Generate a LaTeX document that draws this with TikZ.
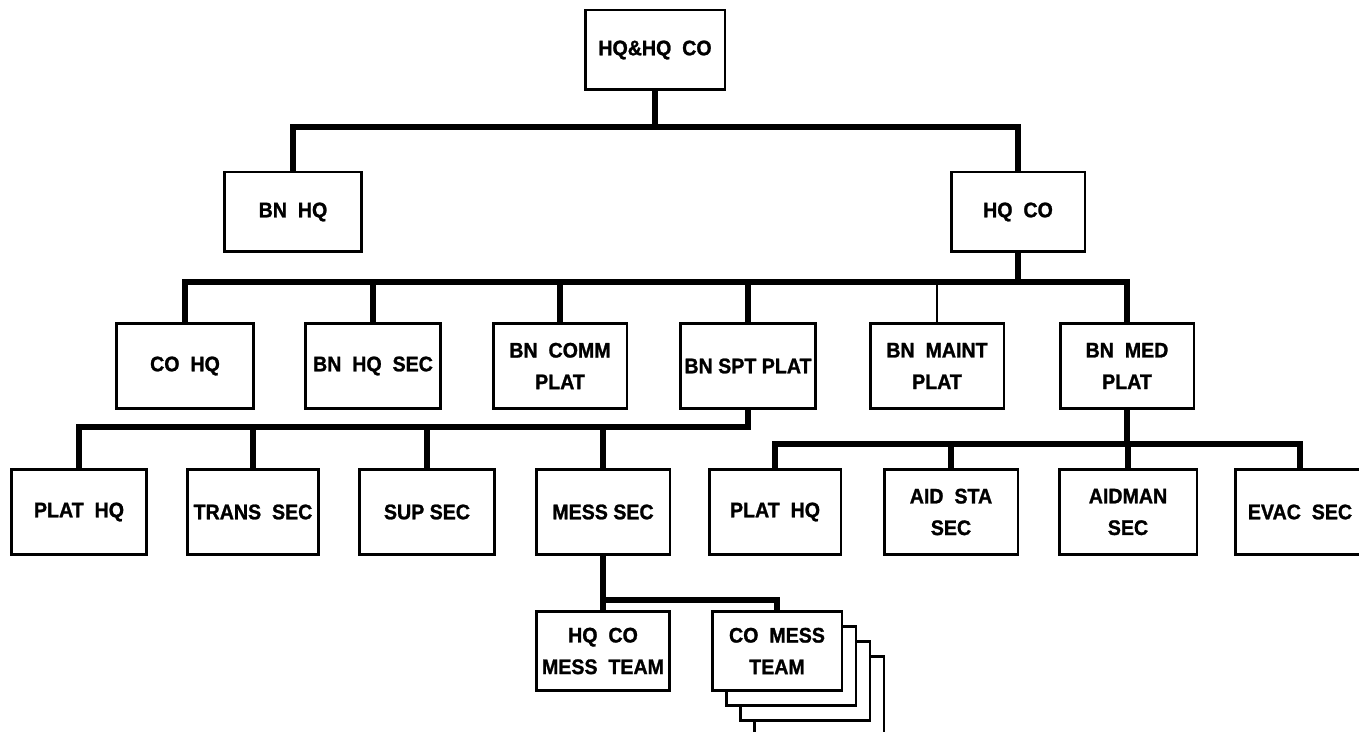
\documentclass[tikz,border=0pt]{standalone}
\usepackage{fontspec}
\newfontfamily\orgfont{Liberation Sans}[FakeStretch=0.93, FakeBold=1.2]
\tikzset{
  unit/.style={draw, line width=1.7pt, fill=white, minimum width=2.68cm, minimum height=1.7cm,
    inner sep=0.5pt, align=center, font=\orgfont\bfseries\fontsize{12}{18}\selectfont},
  lowunit/.style={unit, minimum height=1.6cm},
  bus/.style={line width=3.6pt, line join=miter},
  thinbus/.style={line width=1.6pt},
}

\begin{document}
\begin{tikzpicture}[x=0.02cm, y=-0.02cm]
  \clip (0,0) rectangle (1359,732);
  \fill[white] (0,0) rectangle (1359,732);

  % bus levels
  \coordinate (bus1) at (0,127);
  \coordinate (bus2) at (0,282);
  \coordinate (bus3a) at (0,427);
  \coordinate (bus3b) at (0,444);
  \coordinate (bus4) at (0,600);

  % Company
  \node[lowunit, minimum width=2.8cm] (hqhq) at (655,50) {HQ\&HQ~~CO};

  % Battalion HQ and HQ company
  \node[lowunit, minimum width=2.74cm] (bnhq) at (293,212) {BN~~HQ};
  \node[lowunit] (hqco) at (1018,212) {HQ~~CO};

  % Sections and platoons
  \node[unit, minimum width=2.76cm] (cohq) at (185,366) {CO~~HQ};
  \node[unit, minimum width=2.72cm] (hqsec) at (373,366) {BN~~HQ~~SEC};
  \node[unit] (commplat) at (560,366) {BN~~COMM\\PLAT};
  \node[unit, minimum width=2.7cm] (sptplat) at (748,366) {BN SPT PLAT};
  \node[unit] (maintplat) at (937,366) {BN~~MAINT\\PLAT};
  \node[unit] (medplat) at (1127,366) {BN~~MED\\PLAT};

  % Support platoon
  \node[unit, minimum width=2.7cm] (plathqa) at (79,512) {PLAT~~HQ};
  \node[unit, minimum width=2.62cm] (transsec) at (253,512) {TRANS~~SEC};
  \node[unit, minimum width=2.72cm] (supsec) at (427,512) {SUP SEC};
  \node[unit] (messsec) at (603,512) {MESS SEC};

  % Medical platoon
  \node[unit, minimum width=2.64cm] (plathqb) at (775,512) {PLAT~~HQ};
  \node[unit] (aidsta) at (951,512) {AID~~STA\\SEC};
  \node[unit, minimum width=2.76cm] (aidman) at (1128,512) {AIDMAN\\SEC};
  \node[unit, minimum width=2.6cm] (evacsec) at (1300,512) {EVAC~~SEC};

  % Mess teams
  \foreach \k in {3,2,1}
    \node[lowunit, minimum width=2.6cm] (stack\k) at (777+14*\k,651+15*\k) {};
  \node[lowunit, minimum width=2.66cm] (hqmess) at (603,651) {HQ~~CO\\MESS~~TEAM};
  \node[lowunit, minimum width=2.6cm] (comess) at (777,651) {CO~~MESS\\TEAM};

  % Connectors
  \draw[bus] (hqhq.south) -- (hqhq.south |- bus1);
  \draw[bus] (bnhq.north) |- (hqco.north |- bus1) -- (hqco.north);

  \draw[bus] (hqco.south) -- (hqco.south |- bus2);
  \draw[bus] (cohq.north) |- (medplat.north |- bus2) -- (medplat.north);
  \foreach \n in {hqsec,commplat,sptplat}
    \draw[bus] (\n.north) -- (\n.north |- bus2);
  \draw[thinbus] (maintplat.north) -- (maintplat.north |- bus2);

  \draw[bus] (plathqa.north) |- (sptplat.south |- bus3a) -- (sptplat.south);
  \foreach \n in {transsec,supsec,messsec}
    \draw[bus] (\n.north) -- (\n.north |- bus3a);

  \draw[bus] (plathqb.north) |- (evacsec.north |- bus3b) -- (evacsec.north);
  \foreach \n in {aidsta,aidman}
    \draw[bus] (\n.north) -- (\n.north |- bus3b);
  \draw[bus] (medplat.south) -- (medplat.south |- bus3b);

  \draw[bus] (messsec.south) -- (hqmess.north);
  \draw[bus] (messsec.south |- bus4) -| (comess.north);
\end{tikzpicture}
\end{document}
